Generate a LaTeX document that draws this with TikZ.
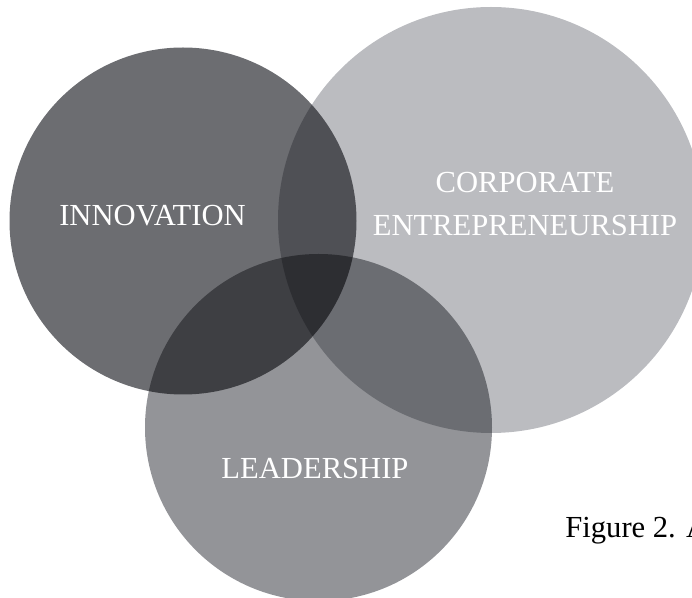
\documentclass[tikz,border=0pt]{standalone}
\usepackage{fontspec}
\setmainfont{Liberation Serif}
\definecolor{innovgray}{RGB}{108,109,113}
\definecolor{corpgray}{RGB}{187,188,192}
\definecolor{leadgray}{RGB}{147,148,152}

\begin{document}
\begin{tikzpicture}[x=0.5pt,y=-0.5pt]
  \tikzstyle{every node}=[text=white,inner sep=0pt,font=\fontsize{15.3}{21.8}\selectfont]
  \useasboundingbox (0,0) rectangle (692,598);
  \clip (0,0) rectangle (692,598);
  \begin{scope}[blend group=multiply]
    \fill[corpgray] (491,220) circle[radius=213];
    \fill[innovgray] (183,221) circle[radius=173.5];
    \fill[leadgray] (318.5,427.5) circle[radius=173.5];
  \end{scope}
  \node[anchor=base] (innov) at (152.5,226) {INNOVATION};
  \node[align=center] (corp) at (525,204) {CORPORATE\\ENTREPRENEURSHIP};
  \node[anchor=base] (lead) at (315,479) {LEADERSHIP};
  \node[anchor=base west,text=black] (caption) at (565,538) {Figure 2. A};
\end{tikzpicture}
\end{document}
